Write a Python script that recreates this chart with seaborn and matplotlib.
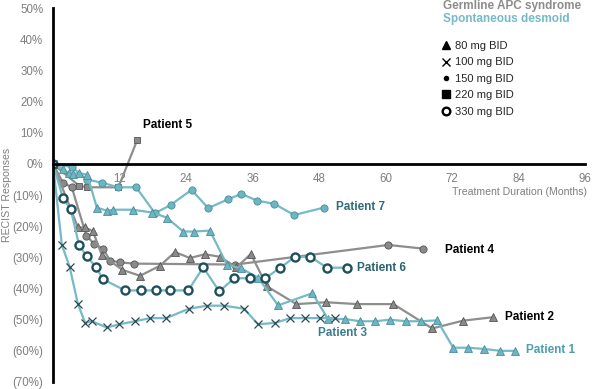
import seaborn as sns
import matplotlib.pyplot as plt
from matplotlib.lines import Line2D

# Data (months on treatment, % change by RECIST)
p1_month = [0, 1.8, 2.8, 3.6, 4.7, 6.2, 7.9, 9.7, 10.9, 14.4, 17.9, 20.5, 23.5, 25.4, 28.3, 31.4, 33.9, 37.0,
            40.6, 46.8, 49.6, 52.7, 55.4, 58.1, 60.8, 63.7, 66.4, 69.3, 72.2, 74.9, 77.8, 80.7, 83.4]
p1_pct = [0, -1.5, -3, -3.2, -2.9, -3.5, -14, -15, -14.7, -14.7, -15.6, -17.2, -21.7, -21.7, -21.4, -32.4, -33.5, -36.5,
          -45.4, -41.5, -49.8, -49.8, -50.5, -50.5, -50, -50.5, -50.5, -50.2, -59, -59, -59.4, -60, -60]

p2_month = [0, 4.5, 5.8, 7.2, 8.8, 12.5, 15.7, 19.3, 22.0, 24.7, 27.4, 30.1, 33.1, 35.7, 38.6, 43.9,
            49.3, 54.9, 61.4, 68.4, 74.0, 79.4]
p2_pct = [0, -20.4, -20.4, -21.6, -29.2, -34, -35.9, -32.7, -28.3, -30.2, -29, -29.8, -33.2, -28.9, -39.3, -45,
          -44.4, -45, -45, -52.8, -50.3, -49.2]

p3_month = [0, 1.6, 3.0, 4.5, 5.8, 7.0, 9.7, 11.9, 14.8, 17.5, 20.4, 24.5, 27.8, 30.9, 34.5, 37.0, 40.1,
            42.8, 45.5, 48.2, 50.9]
p3_pct = [0, -26, -33, -45, -51, -50.5, -52.5, -51.5, -50.5, -49.5, -49.5, -46.5, -45.5, -45.5, -46.5, -51.5, -51,
          -49.5, -49.5, -49.5, -49.5]

p4_month = [0, 1.8, 3.4, 6.0, 7.4, 9.0, 10.3, 12.1, 14.6, 32.9, 60.5, 66.8]
p4_pct = [0, -6, -7.5, -23, -25.6, -27.2, -31, -31.6, -32, -32.3, -26, -27.2]

p5_month = [0, 4.7, 6.1, 11.8, 15.2]
p5_pct = [0, -7, -7.5, -7.5, 7.7]

p6_month = [0, 1.8, 3.2, 4.7, 6.1, 7.8, 9.0, 13.0, 15.9, 18.6, 21.1, 24.4, 27.1, 30.0, 32.7, 35.5, 38.3,
            41.0, 43.7, 46.4, 49.4, 53.0]
p6_pct = [0, -11, -14.5, -26, -29.7, -33.2, -37, -40.6, -40.6, -40.6, -40.6, -40.6, -33.2, -40.9, -36.7, -36.7,
          -36.7, -33.3, -29.8, -29.8, -33.3, -33.3]

p7_month = [0, 3.4, 6.1, 8.8, 11.8, 15.0, 18.4, 21.2, 25.0, 28.0, 31.5, 34.0, 36.8, 39.9, 43.5, 48.9]
p7_pct = [0, -1, -5, -6, -7.5, -7.5, -15.8, -13.2, -8.3, -14.2, -11.4, -9.6, -11.8, -12.8, -16.4, -14]

doses = ['80 mg BID', '100 mg BID', '150 mg BID', '220 mg BID', '330 mg BID']
yticks = list(range(-70, 51, 10))
xticks = list(range(12, 97, 12))

GRAY = '#8e8e8e'
GRAY_FILL = '#8a8a8a'
GRAY_EDGE = '#555555'
TEAL = '#75bac6'
TEAL_FILL = '#6cb5c2'
TEAL_EDGE = '#4a8e9b'
DARK_TEAL = '#1f4f5c'

sns.set_style('white')
plt.rcParams['font.family'] = ['Liberation Sans', 'DejaVu Sans']

fig = plt.figure(figsize=(5.92, 3.89), dpi=100)
ax = fig.add_axes([0.0895, 0.018, 0.899, 0.961])

lw = 1.6
# Germline APC syndrome (gray)
sns.lineplot(x=p4_month, y=p4_pct, ax=ax, sort=False, estimator=None, color=GRAY, lw=lw,
             marker='o', ms=5.2, mfc=GRAY_FILL, mec=GRAY_EDGE, mew=0.6)
sns.lineplot(x=p5_month, y=p5_pct, ax=ax, sort=False, estimator=None, color=GRAY, lw=lw,
             marker='s', ms=5, mfc=GRAY_FILL, mec=GRAY_EDGE, mew=0.6)
sns.lineplot(x=p2_month, y=p2_pct, ax=ax, sort=False, estimator=None, color=GRAY, lw=lw,
             marker='^', ms=6, mfc=GRAY_FILL, mec=GRAY_EDGE, mew=0.6)
# Spontaneous desmoid (teal)
sns.lineplot(x=p7_month, y=p7_pct, ax=ax, sort=False, estimator=None, color=TEAL, lw=lw,
             marker='o', ms=5.2, mfc=TEAL_FILL, mec=TEAL_EDGE, mew=0.6)
sns.lineplot(x=p1_month, y=p1_pct, ax=ax, sort=False, estimator=None, color=TEAL, lw=lw,
             marker='^', ms=6, mfc=TEAL_FILL, mec=TEAL_EDGE, mew=0.6)
sns.lineplot(x=p3_month, y=p3_pct, ax=ax, sort=False, estimator=None, color=TEAL, lw=lw,
             marker='x', ms=5.5, mec='#2e4a56', mew=0.9)
sns.lineplot(x=p6_month, y=p6_pct, ax=ax, sort=False, estimator=None, color=TEAL, lw=lw,
             marker='o', ms=5.8, mfc='white', mec=DARK_TEAL, mew=1.7)

# patient labels
lab = dict(fontsize=8.5, fontweight='bold', va='center', ha='left')
ax.text(16.2, 12.5, 'Patient 5', color='black', **lab)
ax.text(51.0, -13.8, 'Patient 7', color='#2f6c7b', **lab)
ax.text(70.8, -27.5, 'Patient 4', color='black', **lab)
ax.text(54.9, -33.3, 'Patient 6', color='#2a6372', **lab)
ax.text(81.6, -49.0, 'Patient 2', color='black', **lab)
ax.text(47.8, -54.4, 'Patient 3', color='#3b7d8d', **lab)
ax.text(85.4, -59.8, 'Patient 1', color='#4c9fb0', **lab)

ax.set_xlim(0, 96)
ax.set_ylim(-70, 50)
ax.set_xticks(xticks)
ax.set_xticklabels([str(t) for t in xticks])
ax.set_yticks(yticks)
ax.set_yticklabels([f'{t}%' if t >= 0 else f'({-t}%)' for t in yticks])
ax.tick_params(axis='both', direction='inout', length=7, width=1.6, color='black',
               labelcolor='#7f7f7f', labelsize=8.3)
ax.tick_params(axis='x', pad=3)
ax.tick_params(axis='y', pad=3.5)

for s in ['top', 'right']:
    ax.spines[s].set_visible(False)
ax.spines['bottom'].set_position(('data', 0))
for s in ['left', 'bottom']:
    ax.spines[s].set_linewidth(2)
    ax.spines[s].set_color('black')
ax.set_xlabel('')
ax.set_ylabel('')

ax.text(1.004, 0.508, 'Treatment Duration (Months)', transform=ax.transAxes, ha='right', va='center',
        fontsize=7.6, color='#7f7f7f')
fig.text(0.0115, 0.499, 'RECIST Responses', rotation=90, ha='center', va='center', fontsize=7.6,
         color='#7f7f7f')

# group legend
fig.text(443 / 592, 1 - 6 / 389, 'Germline APC syndrome', ha='left', va='center', fontsize=8.5,
         fontweight='bold', color='#8c8c8c')
fig.text(443 / 592, 1 - 19 / 389, 'Spontaneous desmoid', ha='left', va='center', fontsize=8.5,
         fontweight='bold', color=TEAL)

# dose legend
handles = [
    Line2D([], [], ls='None', marker='^', color='black', ms=6),
    Line2D([], [], ls='None', marker='x', color='black', ms=6, mew=1),
    Line2D([], [], ls='None', marker='o', color='black', ms=3),
    Line2D([], [], ls='None', marker='s', color='black', ms=5.5),
    Line2D([], [], ls='None', marker='o', mfc='white', mec='black', ms=5.5, mew=1.7),
]
fig.legend(handles=handles, labels=doses, loc='upper left', bbox_to_anchor=(442 / 592, 1 - 41 / 389),
           frameon=False, fontsize=8, handlelength=0.8, handletextpad=0.4, labelspacing=0.58,
           borderpad=0, borderaxespad=0)

fig.savefig('out.png', dpi=100)
